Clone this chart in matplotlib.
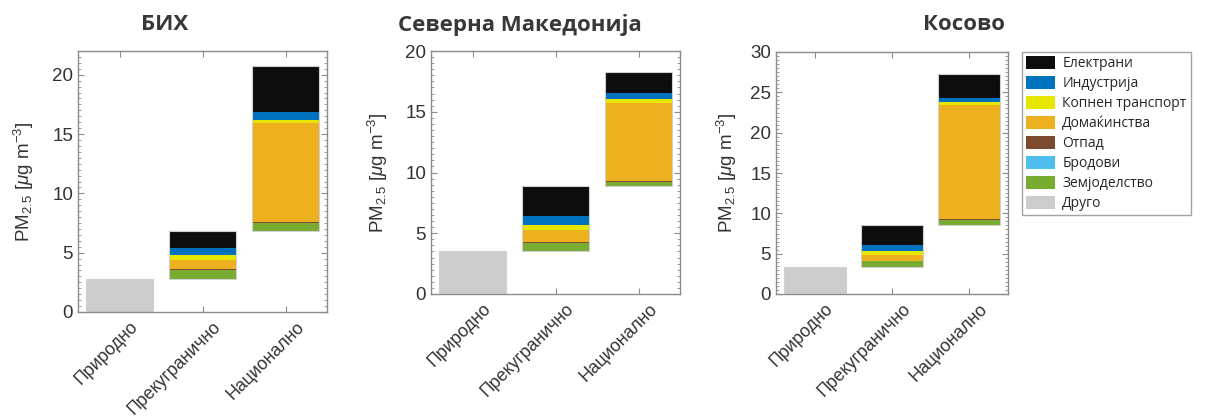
import matplotlib
matplotlib.use('Agg')
import matplotlib.pyplot as plt
import matplotlib.transforms as mtransforms
from matplotlib.ticker import MultipleLocator
from matplotlib.patches import Patch
import numpy as np

# legend order (top to bottom)
sectors = ['Електрани', 'Индустрија', 'Копнен транспорт', 'Домаќинства',
           'Отпад', 'Бродови', 'Земјоделство', 'Друго']
sector_colors = ['#0d0d0d', '#0072bd', '#e6e600', '#edb120',
                 '#7e4a2f', '#4dbeee', '#77ac30', '#cccccc']

categories = ['Природно', 'Прекугранично', 'Национално']
countries = ['БИХ', 'Северна Македонија', 'Косово']

# segment heights, in legend order (Електрани ... Друго)
bih_natural = [0, 0, 0, 0, 0, 0, 0, 2.80]
bih_transb = [1.50, 0.58, 0.40, 0.78, 0.05, 0, 0.75, 0]
bih_national = [3.87, 0.65, 0.31, 8.27, 0.14, 0, 0.62, 0]

mk_natural = [0, 0, 0, 0, 0, 0, 0, 3.54]
mk_transb = [2.44, 0.77, 0.41, 0.94, 0.10, 0, 0.68, 0]
mk_national = [1.74, 0.47, 0.38, 6.37, 0.14, 0, 0.31, 0]

ks_natural = [0, 0, 0, 0, 0, 0, 0, 3.30]
ks_transb = [2.56, 0.74, 0.50, 0.65, 0.05, 0, 0.80, 0]
ks_national = [2.98, 0.54, 0.33, 14.13, 0.21, 0, 0.54, 0]

ylims = [22, 20, 30]

plt.rcParams['mathtext.fontset'] = 'custom'
plt.rcParams['mathtext.rm'] = 'Liberation Sans'
plt.rcParams['mathtext.it'] = 'Liberation Sans:italic'
plt.rcParams['font.family'] = ['Liberation Sans', 'DejaVu Sans']

W, H = 1215, 420
fig = plt.figure(figsize=(W / 100, H / 100), dpi=100)

# axes boxes in pixels: left, right, top, bottom
boxes = [(78, 327, 51, 312), (431, 680, 51, 294), (776, 1008, 52, 294)]
title_pos = [(165, 25), (520, 25), (964, 25)]
ylabel_x = [36, 390, 739]

data = [[bih_natural, bih_transb, bih_national],
        [mk_natural, mk_transb, mk_national],
        [ks_natural, ks_transb, ks_national]]

txt_col = '#333333'
axis_col = '#8c8c8c'

x = np.arange(1, 4)
for i, (l, r, t, b) in enumerate(boxes):
    ax = fig.add_axes([l / W, (H - b) / H, (r - l) / W, (b - t) / H])
    vals = np.array(data[i])  # category x sector
    totals = vals.sum(axis=1)
    bases = np.concatenate([[0], np.cumsum(totals)[:-1]])
    bottom = bases.copy()
    for j in range(len(sectors) - 1, -1, -1):
        ax.bar(x, vals[:, j], width=0.8, bottom=bottom,
               color=sector_colors[j], edgecolor='none', zorder=2)
        bottom = bottom + vals[:, j]
    ax.bar(x, totals, width=0.8, bottom=bases, fill=False,
           edgecolor='#d0d0d0', linewidth=0.8, zorder=3)

    ax.set_xlim(0.5, 3.5)
    ax.set_ylim(0, ylims[i])
    ax.yaxis.set_major_locator(MultipleLocator(5))
    ax.yaxis.set_minor_locator(MultipleLocator(0.5))
    ax.tick_params(axis='both', which='both', direction='in',
                   top=True, right=True, color=axis_col,
                   labelcolor=txt_col)
    ax.tick_params(axis='y', labelsize=13.5)
    ax.tick_params(axis='x', labelsize=12.8, pad=6)
    ax.tick_params(which='major', length=4, width=0.8)
    ax.tick_params(which='minor', length=2, width=0.6)
    ax.tick_params(axis='x', which='minor', top=False, bottom=False)
    for s in ax.spines.values():
        s.set_color(axis_col)
        s.set_linewidth(1.0)

    ax.set_xticks(x, categories, rotation=45, ha='right',
                  rotation_mode='anchor')
    shift = mtransforms.ScaledTranslation(0.10, 0.02, fig.dpi_scale_trans)
    for lbl in ax.get_xticklabels():
        lbl.set_transform(lbl.get_transform() + shift)

    ax.set_ylabel(r'PM$_{2.5}$ [$\mu$g m$^{-3}$]', fontsize=13.5, color=txt_col)
    ax.yaxis.set_label_coords(ylabel_x[i] / W, 1 - (t + b) / 2 / H,
                              transform=fig.transFigure)

    tx, ty = title_pos[i]
    fig.text(tx / W, 1 - ty / H, countries[i], ha='center', va='center',
             fontsize=16, fontweight='bold', color='#383838',
             family=['Open Sans', 'DejaVu Sans'])

handles = [Patch(facecolor=c, edgecolor='none') for c in sector_colors]
leg = fig.legend(handles, sectors, loc='upper left',
                 bbox_to_anchor=(1022 / W, 1 - 52 / H),
                 frameon=True, fancybox=False, edgecolor=axis_col,
                 prop={'family': ['Open Sans', 'DejaVu Sans'], 'size': 10},
                 handlelength=2.1, handleheight=1.0, labelspacing=0.36,
                 handletextpad=0.5, borderpad=0.3, borderaxespad=0)
leg.get_frame().set_linewidth(1.0)
for txt in leg.get_texts():
    txt.set_color('#262626')

fig.savefig('out.png', dpi=100)
